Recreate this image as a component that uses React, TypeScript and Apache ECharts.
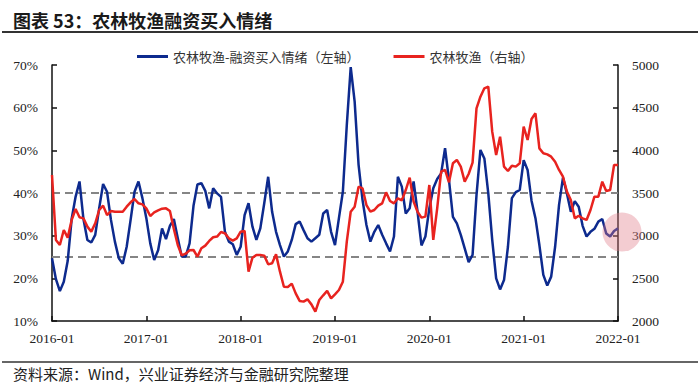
import React, { useEffect, useRef } from "react";
import * as echarts from "echarts";

const titleText = "图表 53：农林牧渔融资买入情绪";
const sourceText = "资料来源：Wind，兴业证券经济与金融研究院整理";
const seriesNames = ["农林牧渔-融资买入情绪（左轴）", "农林牧渔（右轴）"];
const startYear = 2016;
const pointsPerYear = 24; // half-month steps
const yearCount = 6;

// 农林牧渔-融资买入情绪 (%), half-month points from 2016-01 to 2022-01
const sentiment = [
  24.7, 19.8, 17.0, 19.2, 24.1, 33.9, 39.1, 42.7, 33.9, 29.0,
  28.4, 30.2, 36.4, 42.1, 40.3, 33.7, 28.6, 24.7, 23.4, 27.4,
  33.7, 40.3, 42.7, 38.8, 34.1, 28.2, 24.3, 26.6, 31.7, 29.2,
  32.3, 33.9, 29.4, 25.1, 25.1, 28.2, 37.0, 42.0, 42.3, 40.5,
  36.4, 41.1, 39.9, 39.1, 30.9, 28.6, 28.0, 25.5, 27.4, 34.8,
  37.6, 32.1, 29.0, 31.7, 37.6, 43.8, 35.6, 30.9, 27.8, 25.1,
  26.3, 29.0, 32.7, 33.3, 31.3, 29.4, 28.6, 29.4, 30.2, 35.2,
  36.0, 30.9, 27.8, 34.1, 40.3, 55.9, 69.5, 61.4, 46.6, 38.4,
  32.5, 28.6, 30.9, 32.5, 30.2, 28.2, 26.3, 29.8, 43.8, 41.5,
  35.2, 36.4, 42.7, 35.6, 27.7, 29.8, 36.4, 41.1, 43.3, 44.6,
  50.5, 43.0, 34.4, 32.9, 30.2, 27.0, 23.8, 25.5, 39.5, 50.1,
  48.1, 39.9, 29.0, 20.0, 17.4, 19.6, 27.4, 38.8, 40.2, 40.7,
  47.7, 45.4, 38.2, 34.1, 27.8, 20.8, 18.3, 20.4, 27.4, 37.2,
  43.6, 39.9, 35.6, 38.1, 36.8, 32.3, 29.8, 30.9, 31.6, 33.3,
  33.9, 30.5, 29.8, 31.1, 31.7,
];

// 农林牧渔 index (right axis)
const sectorIndex = [
  3711, 2949, 2891, 3067, 2977, 3184, 3313, 3215, 3203, 3106,
  3047, 3145, 3301, 3352, 3242, 3289, 3281, 3281, 3281, 3340,
  3391, 3430, 3379, 3367, 3320, 3230, 3273, 3297, 3316, 3320,
  3289, 3078, 2891, 2770, 2789, 2828, 2832, 2754, 2852, 2883,
  2938, 2981, 2989, 3043, 3027, 2969, 2942, 2969, 3047, 3055,
  2578, 2742, 2774, 2774, 2766, 2664, 2676, 2781, 2578, 2402,
  2399, 2438, 2324, 2235, 2227, 2254, 2195, 2110, 2246, 2301,
  2352, 2266, 2313, 2363, 2461, 2930, 3281, 3340, 3574, 3555,
  3359, 3281, 3301, 3352, 3379, 3508, 3406, 3379, 3438, 3414,
  3535, 3680, 3399, 3281, 3211, 3223, 3594, 2950, 3320, 3750,
  3770, 3625, 3848, 3887, 3809, 3633, 3723, 3856, 4492, 4629,
  4727, 4746, 4219, 3945, 4160, 3809, 3758, 3820, 3809, 3848,
  4277, 4121, 4367, 4434, 4023, 3965, 3953, 3926, 3867, 3770,
  3691, 3516, 3418, 3203, 3234, 3203, 3184, 3301, 3457, 3457,
  3633, 3524, 3535, 3828, 3828,
];

const referenceLevels = [40, 25];
const leftAxis = { min: 10, max: 70, interval: 10 };
const rightAxis = { min: 2000, max: 5000, interval: 500 };

const BLUE = "#0d2a8e";
const RED = "#e8231f";
const SERIF = "Liberation Serif";
const CJK = "Noto Sans CJK SC";

export default function App() {
  const ref = useRef<HTMLDivElement>(null);

  useEffect(() => {
    document.body.style.margin = "0";
    if (!ref.current) return;
    const chart = echarts.init(ref.current, undefined, { renderer: "svg" });

    const axisLine = { show: true, lineStyle: { color: "#111", width: 1.5 } };
    const axisTick = { show: true, inside: true, length: 5, lineStyle: { color: "#111", width: 1.5 } };
    const labelStyle = { color: "#222", fontFamily: SERIF, fontSize: 13.5 };

    chart.setOption({
      animation: false,
      backgroundColor: "#fff",
      grid: { left: 52, right: 82, top: 65, bottom: 68, containLabel: false },
      legend: {
        data: seriesNames,
        left: 132,
        top: 45,
        icon: "rect",
        itemWidth: 31,
        itemHeight: 3,
        itemGap: 34,
        textStyle: { fontFamily: CJK, fontSize: 13, color: "#333" },
      },
      xAxis: {
        type: "value",
        min: 0,
        max: pointsPerYear * yearCount,
        interval: pointsPerYear,
        axisLine,
        axisTick,
        splitLine: { show: false },
        axisLabel: {
          ...labelStyle,
          margin: 10,
          showMinLabel: true,
          showMaxLabel: true,
          formatter: (v: number) => `${startYear + Math.round(v / pointsPerYear)}-01`,
        },
      },
      yAxis: [
        {
          type: "value",
          ...leftAxis,
          axisLine,
          axisTick,
          splitLine: { show: false },
          axisLabel: { ...labelStyle, margin: 14, formatter: (v: number) => `${v}%` },
        },
        {
          type: "value",
          position: "right",
          ...rightAxis,
          axisLine,
          axisTick,
          splitLine: { show: false },
          axisLabel: { ...labelStyle, margin: 14, formatter: (v: number) => String(v) },
        },
      ],
      series: [
        {
          name: seriesNames[0],
          type: "line",
          yAxisIndex: 0,
          data: sentiment.map((v, i) => [i, v]),
          showSymbol: false,
          symbol: "none",
          lineStyle: { color: BLUE, width: 2.5 },
          itemStyle: { color: BLUE },
          z: 3,
          markLine: {
            silent: true,
            symbol: ["none", "none"],
            label: { show: false },
            lineStyle: { color: "#858585", width: 2, type: [8, 5] },
            data: referenceLevels.map((y) => ({ yAxis: y })),
            z: 1,
          },
        },
        {
          name: seriesNames[1],
          type: "line",
          yAxisIndex: 1,
          data: sectorIndex.map((v, i) => [i, v]),
          showSymbol: false,
          symbol: "none",
          lineStyle: { color: RED, width: 2.5 },
          itemStyle: { color: RED },
          z: 4,
        },
      ],
      graphic: [
        {
          type: "text",
          x: 13,
          y: 20,
          style: {
            text: titleText,
            fontFamily: CJK,
            fontSize: 18,
            fontWeight: "bold",
            fill: "#1a1a1a",
            verticalAlign: "middle",
          },
        },
        {
          type: "line",
          shape: { x1: 2, y1: 32, x2: 698, y2: 32 },
          style: { stroke: "#333", lineWidth: 2 },
        },
        {
          type: "line",
          shape: { x1: 2, y1: 362, x2: 698, y2: 362 },
          style: { stroke: "#333", lineWidth: 1.5 },
        },
        {
          type: "text",
          x: 13,
          y: 373,
          style: {
            text: sourceText,
            fontFamily: CJK,
            fontSize: 15,
            fill: "#222",
            verticalAlign: "middle",
          },
        },
        {
          type: "circle",
          shape: { cx: 622, cy: 232, r: 19.5 },
          style: { fill: "rgba(224, 120, 135, 0.38)" },
          z: 100,
        },
      ],
    });

    return () => chart.dispose();
  }, []);

  return <div ref={ref} style={{ width: 700, height: 389 }} />;
}
